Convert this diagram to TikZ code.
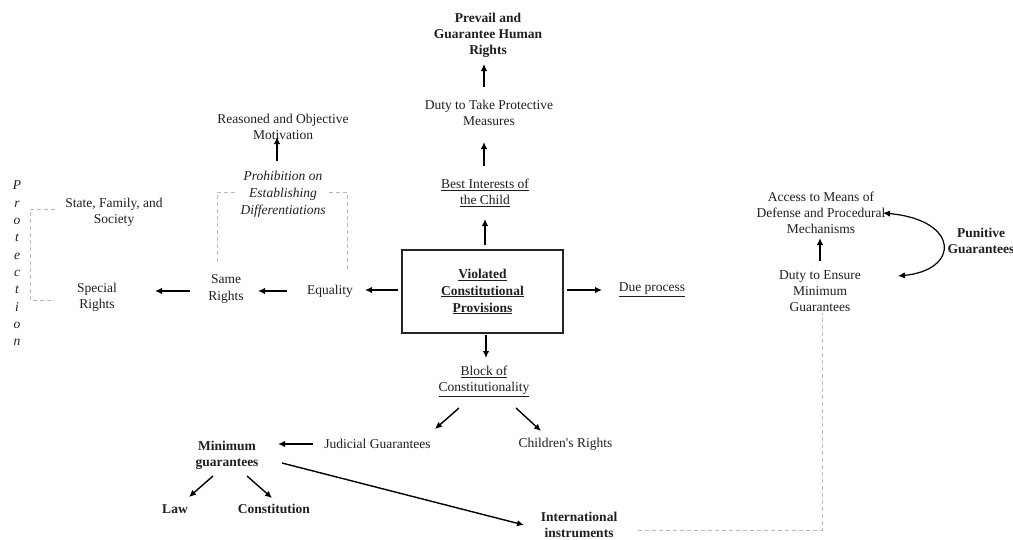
\documentclass[tikz,border=0pt]{standalone}
\usepackage{fontspec}
\setmainfont{Liberation Serif}
\usetikzlibrary{arrows.meta,calc}
\begin{document}
\begin{tikzpicture}[x=1pt,y=-1pt,
  every node/.style={inner sep=0pt, align=center, text=black!88, font=\fontsize{13.5}{16.3}\selectfont},
  bld/.style={font=\fontsize{13.5}{16.3}\selectfont\bfseries},
  itl/.style={font=\fontsize{13.5}{17}\selectfont\itshape},
  mainbox/.style={draw=black!85, line width=1.1pt, minimum width=161pt, minimum height=83pt, font=\fontsize{13.5}{17}\selectfont\bfseries},
  arr/.style={-{Latex[length=7pt,width=6.5pt]}, line width=1.4pt, black},
  dbl/.style={{Latex[length=7pt,width=6.5pt]}-{Latex[length=7pt,width=6.5pt]}, line width=1.2pt, black},
  dashbr/.style={gray!55, dash pattern=on 4pt off 3pt, line width=0.8pt}]
\useasboundingbox (0,0) rectangle (1013,539);
\fill[white] (0,0) rectangle (1013,539);

% dashed brackets (drawn first)
\draw[dashbr] (55,209) -- (30,209) -- (30,300) -- (55,300);
\draw[dashbr] (217,262) -- (217,192) -- (347,192) -- (347,270);

% centre column
\node[bld] (pg) at (488,35.5) {Prevail and\\Guarantee Human\\Rights};
\node (dtp) at (489,113) {Duty to Take Protective\\Measures};
\node (bic) at (485,193) {\underline{Best Interests of}\\\underline{the Child}};
\node[mainbox] (vcp) at (482.5,291.5) {\underline{Violated}\\\underline{Constitutional}\\\underline{Provisions}};
\node (dp) at (652,290) {\underline{Due process}};
\node (bc) at (484,381.5) {\underline{Block of}\\\underline{Constitutionality}};
\node (jg) at (377.5,444) {Judicial Guarantees};
\node (cr) at (565.5,444) {Children\textquotesingle s Rights};
\node[bld] (mg) at (227,455) {Minimum\\guarantees};
\node[bld] (law) at (175,509) {Law};
\node[bld] (con) at (274,509) {Constitution};
\node[bld] (ii) at (579,525) {International\\instruments};

% left side
\node (eq) at (330,291) {Equality};
\node (sr) at (226,289) {Same\\Rights};
\node (spr) at (97,297) {Special\\Rights};
\node (sfs) at (114,212) {State, Family, and\\Society};
\node[font=\fontsize{13.5}{17.33}\selectfont\itshape] (prot) at (17,263.5) {P\\r\\o\\t\\e\\c\\t\\i\\o\\n};
\node (rom) at (283,127) {Reasoned and Objective\\Motivation};
\node[itl, fill=white, inner xsep=3pt, inner ysep=1pt] (pod) at (283,194) {Prohibition on\\Establishing\\Differentiations};

% right side
\node (am) at (821,213) {Access to Means of\\Defense and Procedural\\Mechanisms};
\node (dte) at (820,291) {Duty to Ensure\\Minimum\\Guarantees};
\node[bld] (pug) at (981,241) {Punitive\\Guarantees};

% arrows centre
\draw[arr] ($(dtp)+(-5,-26)$) -- ($(pg)+(-4,28.5)$);
\draw[arr] ($(bic)+(-1,-27)$) -- ($(dtp)+(-5,29)$);
\draw[arr] ($(vcp)+(2.5,-46.5)$) -- ($(bic)+(0,26)$);
\draw[arr] ($(vcp)+(84.5,-1.5)$) -- ($(dp)+(-50,0)$);
\draw[arr] ($(vcp)+(3.5,43.5)$) -- ($(bc)+(2,-23.5)$);
\draw[arr] ($(bc)+(-25,26.5)$) -- ($(jg)+(57.5,-15)$);
\draw[arr] ($(bc)+(32,26.5)$) -- ($(cr)+(-24.5,-13)$);
\draw[arr] ($(jg)+(-64.5,0)$) -- ($(mg)+(51,-11)$);
\draw[arr] ($(mg)+(-14,21)$) -- ($(law)+(14,-12)$);
\draw[arr] ($(mg)+(20,21)$) -- ($(con)+(-2,-11)$);
\draw[arr] ($(mg)+(55,8)$) -- ($(ii)+(-55,0)$);
\draw[dashbr] ($(ii)+(59,5)$) -| ($(dte)+(2,22)$);

% arrows left
\draw[arr] ($(vcp)+(-84.5,-1.5)$) -- ($(eq)+(35,-1)$);
\draw[arr] ($(eq)+(-43,0)$) -- ($(sr)+(32,2)$);
\draw[arr] ($(sr)+(-36,2)$) -- ($(spr)+(58,-6)$);
\draw[arr] ($(pod)+(-6,-33)$) -- ($(rom)+(-6,10)$);

% arrows right
\draw[arr] ($(dte)+(0,-30)$) -- ($(am)+(-1,25)$);
\draw[dbl] ($(am)+(62,0)$) .. controls ($(am)+(139,7)$) and ($(dte)+(140,-21)$) .. ($(dte)+(78,-15)$);
\end{tikzpicture}
\end{document}
